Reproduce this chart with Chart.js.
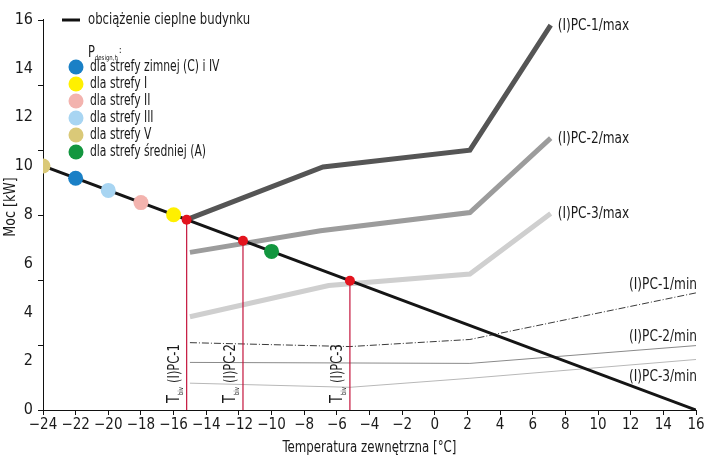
<!DOCTYPE html>
<html>
<head>
<meta charset="utf-8">
<script src="https://cdn.jsdelivr.net/npm/chart.js@4.4.1/dist/chart.umd.min.js"></script>
<style>
body { margin: 0; background: #fff; }
</style>
</head>
<body>
<canvas id="chart" width="708" height="462"></canvas>
<script>

const xTicks = [-24, -22, -20, -18, -16, -14, -12, -10, -8, -6, -4, -2, 0, 2, 4, 6, 8, 10, 12, 14, 16];
const yTicks = [0, 2, 4, 6, 8, 10, 12, 14, 16];

// building heat load
const loadT = [-24, 16];
const loadP = [10, 0];

// P design,h per climate zone
const zoneNames = ['dla strefy zimnej (C) i IV', 'dla strefy I', 'dla strefy II', 'dla strefy III', 'dla strefy V', 'dla strefy średniej (A)'];
const zoneT = [-22, -16, -18, -20, -24, -10];
const zoneP = [9.5, 8.0, 8.5, 9.0, 10, 6.5];
const zoneColors = ['#1a80c6', '#fff000', '#f3b3ae', '#a8d5f2', '#dac978', '#13963f'];

// bivalent points
const bivNames = ['(I)PC-1', '(I)PC-2', '(I)PC-3'];
const bivT = [-15.2, -11.75, -5.2];
const bivP = [7.8, 6.94, 5.3];

// heat pump curves
const pc1MaxT = [-15.2, -6.85, 2.15, 7.1];
const pc1MaxP = [7.8, 9.96, 10.65, 15.77];
const pc2MaxT = [-15, -7, 2.15, 7.1];
const pc2MaxP = [6.46, 7.35, 8.09, 11.14];
const pc3MaxT = [-15, -6.5, 2.15, 7.1];
const pc3MaxP = [3.82, 5.1, 5.57, 8.05];
const pc1MinT = [-15, -5.2, 2.15, 16];
const pc1MinP = [2.76, 2.6, 2.89, 4.8];
const pc2MinT = [-15, 2.15, 16];
const pc2MinP = [1.95, 1.91, 2.64];
const pc3MinT = [-15, -5.2, 2.15, 16];
const pc3MinP = [1.1, 0.93, 1.3, 2.07];

const FONT = "'DejaVu Sans Condensed', 'Liberation Sans Narrow', sans-serif";

function pts(xs, ys) {
  return xs.map((x, i) => ({ x: x, y: ys[i] }));
}

function curve(label, xs, ys, color, width, order, dash) {
  return {
    label: label,
    data: pts(xs, ys),
    borderColor: color,
    borderWidth: width,
    borderDash: dash || [],
    pointRadius: 0,
    fill: false,
    tension: 0,
    order: order
  };
}

// narrow text: the original font is a condensed grotesk
function text(c, str, x, y, sx) {
  c.save();
  c.translate(x, y);
  c.scale(sx, 1);
  c.fillText(str, 0, 0);
  const w = c.measureText(str).width * sx;
  c.restore();
  return w;
}

const datasets = [];
datasets.push(curve('(I)PC-3/min', pc3MinT, pc3MinP, '#b8b8b8', 1, 90));
datasets.push(curve('(I)PC-2/min', pc2MinT, pc2MinP, '#8a8a8a', 1, 89));
datasets.push(curve('(I)PC-1/min', pc1MinT, pc1MinP, '#3a3a3a', 1, 88, [7, 2, 1, 2]));
datasets.push(curve('(I)PC-3/max', pc3MaxT, pc3MaxP, '#cfcfcf', 5, 80));
datasets.push(curve('(I)PC-2/max', pc2MaxT, pc2MaxP, '#9c9c9c', 5, 79));
datasets.push(curve('(I)PC-1/max', pc1MaxT, pc1MaxP, '#555555', 5, 78));
bivT.forEach((t, i) => {
  datasets.push(curve('Tbiv ' + bivNames[i], [t, t], [0, bivP[i]], '#c4143c', 1.2, 60));
});
datasets.push(curve('obciążenie cieplne budynku', loadT, loadP, '#151515', 3, 50));
datasets.push({
  label: 'Pdesign,h',
  data: pts(zoneT, zoneP),
  showLine: false,
  pointRadius: 7.5,
  pointBackgroundColor: zoneColors,
  pointBorderWidth: 0,
  order: 20
});
datasets.push({
  label: 'biv',
  data: pts(bivT, bivP),
  showLine: false,
  pointRadius: 5,
  pointBackgroundColor: '#e3141e',
  pointBorderWidth: 0,
  order: 10
});

const annotate = {
  id: 'annotate',
  afterDraw(chart) {
    const c = chart.ctx;
    const xs = chart.scales.x, ys = chart.scales.y;
    c.save();
    c.fillStyle = '#1a1a1a';

    // y axis tick marks
    c.strokeStyle = '#111';
    c.lineWidth = 1;
    for (let i = 0; i <= 6; i++) {
      const py = Math.round(ys.getPixelForValue(16 * i / 6)) + 0.5;
      c.beginPath();
      c.moveTo(xs.left - 5, py);
      c.lineTo(xs.left, py);
      c.stroke();
    }

    // axis titles
    c.font = '16px ' + FONT;
    c.textBaseline = 'middle';
    c.textAlign = 'center';
    text(c, 'Temperatura zewnętrzna [°C]', (xs.left + xs.right) / 2, 448, 0.82);
    c.save();
    c.translate(11, 207);
    c.rotate(-Math.PI / 2);
    text(c, 'Moc [kW]', 0, 0, 0.88);
    c.restore();

    // legend
    const lx = chart.chartArea.left;
    c.strokeStyle = '#111';
    c.lineWidth = 3;
    c.beginPath();
    c.moveTo(lx + 19, 20);
    c.lineTo(lx + 37, 20);
    c.stroke();
    c.font = '16px ' + FONT;
    c.textBaseline = 'middle';
    c.textAlign = 'left';
    text(c, 'obciążenie cieplne budynku', lx + 45, 20, 0.81);

    c.font = '15px ' + FONT;
    c.textBaseline = 'alphabetic';
    const pw = text(c, 'P', lx + 45, 57, 0.85);
    c.font = '7px ' + FONT;
    const sw = text(c, 'design,h', lx + 45 + pw, 60, 0.85);
    c.font = '10px ' + FONT;
    text(c, ':', lx + 46 + pw + sw, 53, 1);

    c.font = '15px ' + FONT;
    c.textBaseline = 'middle';
    zoneNames.forEach((name, i) => {
      const y = 67 + i * 17;
      c.fillStyle = zoneColors[i];
      c.beginPath();
      c.arc(lx + 33, y, 7.5, 0, Math.PI * 2);
      c.fill();
      c.fillStyle = '#1a1a1a';
      text(c, name, lx + 47, y, 0.8);
    });

    // curve end labels
    c.font = '15px ' + FONT;
    const maxEnds = [[pc1MaxT, pc1MaxP, '(I)PC-1/max'], [pc2MaxT, pc2MaxP, '(I)PC-2/max'], [pc3MaxT, pc3MaxP, '(I)PC-3/max']];
    c.textAlign = 'left';
    maxEnds.forEach(m => {
      const n = m[0].length - 1;
      text(c, m[2], xs.getPixelForValue(m[0][n]) + 7, ys.getPixelForValue(m[1][n]) + 1, 0.9);
    });
    const minEnds = [[pc1MinT, pc1MinP, '(I)PC-1/min', -8], [pc2MinT, pc2MinP, '(I)PC-2/min', -8], [pc3MinT, pc3MinP, '(I)PC-3/min', 18]];
    c.textAlign = 'right';
    minEnds.forEach(m => {
      const n = m[0].length - 1;
      text(c, m[2], xs.getPixelForValue(m[0][n]) + 1, ys.getPixelForValue(m[1][n]) + m[3], 0.9);
    });

    // bivalent labels (rotated)
    bivT.forEach((t, i) => {
      const px = xs.getPixelForValue(t) - 8;
      c.save();
      c.translate(px, ys.getPixelForValue(0) - 7);
      c.rotate(-Math.PI / 2);
      c.textAlign = 'left';
      c.textBaseline = 'alphabetic';
      c.font = '17px ' + FONT;
      let w = text(c, 'T', 0, 0, 0.85);
      c.font = '7px ' + FONT;
      w += text(c, 'biv', w, 4, 0.85) + 4;
      c.font = '16px ' + FONT;
      text(c, bivNames[i], w, 0, 0.8);
      c.restore();
    });
    c.restore();
  }
};

const chart = new Chart(document.getElementById('chart').getContext('2d'), {
  type: 'line',
  data: { datasets: datasets },
  options: {
    responsive: false,
    animation: false,
    layout: { padding: { top: 16, right: 12, left: 0, bottom: 0 } },
    plugins: { legend: { display: false }, tooltip: { enabled: false } },
    scales: {
      x: {
        type: 'linear',
        min: -24,
        max: 16,
        afterBuildTicks: s => { s.ticks = xTicks.map(v => ({ value: v })); },
        afterFit: s => { s.height = 52; },
        ticks: {
          color: '#1a1a1a',
          font: { family: FONT, size: 15 },
          padding: 1,
          maxRotation: 0,
          callback: v => String(v).replace('-', '\u2212')
        },
        grid: { drawOnChartArea: false, drawTicks: true, tickLength: 5, color: '#111' },
        border: { display: true, color: '#111', width: 1 }
      },
      y: {
        type: 'linear',
        min: 0,
        max: 16,
        afterBuildTicks: s => { s.ticks = yTicks.map(v => ({ value: v })); },
        afterFit: s => { s.width = 43; },
        ticks: {
          color: '#1a1a1a',
          font: { family: FONT, size: 16 },
          padding: 10
        },
        grid: { drawOnChartArea: false, drawTicks: false },
        border: { display: true, color: '#111', width: 1 }
      }
    }
  },
  plugins: [annotate]
});
</script>
</body>
</html>
